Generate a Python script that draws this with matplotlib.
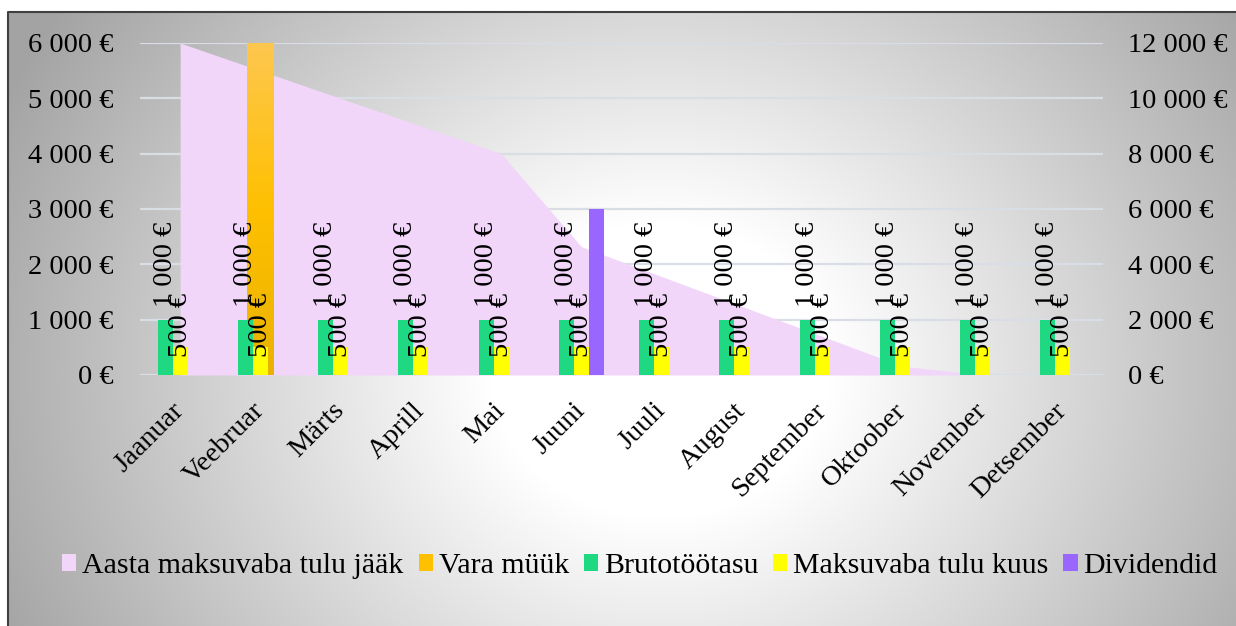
import numpy as np
import matplotlib.pyplot as plt
from matplotlib.colors import LinearSegmentedColormap

plt.rcParams['font.family'] = ['Liberation Serif', 'DejaVu Serif']
FS = 20.5

months = ['Jaanuar', 'Veebruar', 'Märts', 'Aprill', 'Mai', 'Juuni', 'Juuli',
          'August', 'September', 'Oktoober', 'November', 'Detsember']
# primary axis (left)
tulu_jaak = [6000, 5500, 5000, 4500, 4000, 2320, 1780, 1240, 700, 160, 0, 0]
brutotootasu = [1000, 1000, 1000, 1000, 1000, 1000, 1000, 1000, 1000, 1000, 1000, 1000]
maksuvaba_kuus = [500, 500, 500, 500, 500, 500, 500, 500, 500, 500, 500, 500]
dividendid = [0, 0, 0, 0, 0, 3000, 0, 0, 0, 0, 0, 0]
# secondary axis (right)
vara_myyk = [0, 12000, 0, 0, 0, 0, 0, 0, 0, 0, 0, 0]

left_ticks = [0, 1000, 2000, 3000, 4000, 5000, 6000]
right_ticks = [0, 2000, 4000, 6000, 8000, 10000, 12000]


def eur(v):
    return f"{v:,}".replace(',', ' ') + ' €'


W, H = 1236, 626
fig = plt.figure(figsize=(W / 100, H / 100), dpi=100)

# chart area background: radial gradient + border
bg = fig.add_axes([0, 0, 1, 1], zorder=-10)
yy, xx = np.mgrid[0:H, 0:W]
r = np.hypot(xx - 660, (yy - 370) * 1.15)
val = 1 - 0.36 * np.clip((r - 170) / 560, 0, 1)
val[(xx < 8) | (yy < 12)] = 1.0
bg.imshow(np.dstack([val, val, val]), extent=(0, W, H, 0), aspect='auto')
bg.plot([8, 8, W], [H, 12, 12], color='#404040', lw=1.5)
bg.set_xlim(0, W)
bg.set_ylim(H, 0)
bg.axis('off')

x = np.arange(len(months))
w = 0.187

pos = [140 / W, 1 - 375 / H, (1103 - 140) / W, (375 - 43) / H]
ax0 = fig.add_axes(pos, zorder=0)
ax2 = ax0.twinx()
ax1 = ax0.twinx()
ax2.set_zorder(1)
ax1.set_zorder(2)
for a in (ax0, ax1, ax2):
    a.patch.set_visible(False)
    for s in a.spines.values():
        s.set_visible(False)
    a.set_xlim(-0.5, len(months) - 0.5)

# back layer: area + grid
area = ax0.fill_between(x, tulu_jaak, color='#f1d6fa', lw=0, label='Aasta maksuvaba tulu jääk')
ax0.set_ylim(0, 6000)
ax0.set_yticks(left_ticks)
ax0.set_yticklabels([eur(v) for v in left_ticks], fontsize=FS)
ax0.yaxis.grid(True, color='#d9dde4', lw=1.6)
ax0.set_axisbelow(True)
ax0.tick_params(axis='y', length=0, pad=19)
ax0.set_xticks(x)
ax0.set_xticklabels(months, rotation=45, ha='right', va='center',
                    rotation_mode='anchor', fontsize=FS)
ax0.tick_params(axis='x', length=0, pad=23)

# middle layer: secondary axis bars
ax2.set_ylim(0, 12000)
vm = ax2.bar(x, vara_myyk, 0.324, color='#ffc000', label='Vara müük')
grad = LinearSegmentedColormap.from_list('g', ['#eab200', '#ffc000', '#fdc74e'])
for p in vm.patches:
    if p.get_height() > 0:
        x0, y0 = p.get_x(), p.get_y()
        im = ax2.imshow(np.linspace(1, 0, 100).reshape(-1, 1), cmap=grad, aspect='auto',
                        extent=(x0, x0 + p.get_width(), y0, y0 + p.get_height()),
                        zorder=p.get_zorder() + 0.1)
        im.set_clip_path(p)
ax2.set_xlim(-0.5, len(months) - 0.5)
ax2.set_ylim(0, 12000)
ax2.set_yticks(right_ticks)
ax2.set_yticklabels([eur(v) for v in right_ticks], fontsize=FS)
ax2.tick_params(axis='y', length=0, pad=18)

# front layer: primary bars
ax1.set_ylim(0, 6000)
b1 = ax1.bar(x - w, brutotootasu, w, color='#1ed882', label='Brutotöötasu')
b2 = ax1.bar(x, maksuvaba_kuus, w, color='#ffff00', label='Maksuvaba tulu kuus')
b3 = ax1.bar(x + w, dividendid, w, color='#9966ff', label='Dividendid')
ax1.set_yticks([])
for i in x:
    ax1.annotate(eur(brutotootasu[i]), (i - w, brutotootasu[i]), xytext=(0, 9),
                 textcoords='offset points', rotation=90, ha='center', va='bottom', fontsize=FS)
    ax1.annotate(eur(maksuvaba_kuus[i]), (i, maksuvaba_kuus[i]), xytext=(0, -7),
                 textcoords='offset points', rotation=90, ha='center', va='bottom', fontsize=FS)

fig.legend([area, vm, b1, b2, b3],
           ['Aasta maksuvaba tulu jääk', 'Vara müük', 'Brutotöötasu',
            'Maksuvaba tulu kuus', 'Dividendid'],
           loc='center', bbox_to_anchor=(640 / W, 1 - 566 / H), ncol=5, frameon=False,
           fontsize=21.5, handlelength=0.47, handleheight=0.47, handletextpad=0.2,
           columnspacing=0.5)

fig.savefig('out.png', dpi=100)
